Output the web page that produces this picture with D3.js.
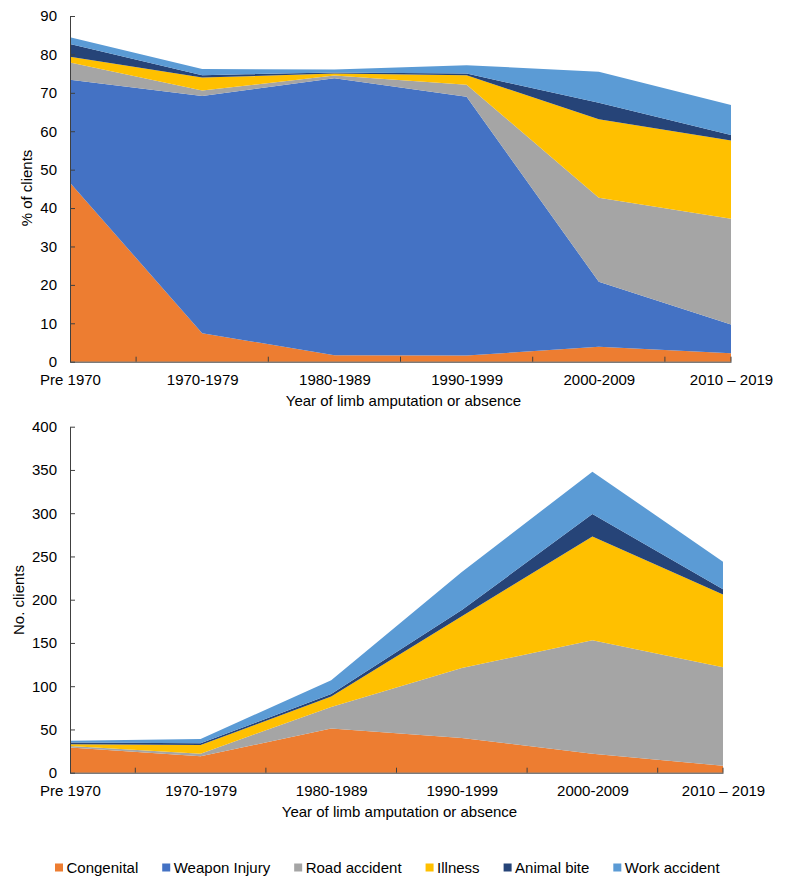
<!DOCTYPE html>
<html>
<head>
<meta charset="utf-8">
<script src="https://cdn.jsdelivr.net/npm/d3@7"></script>
<style>
  html, body { margin: 0; padding: 0; background: #fff; }
  svg { display: block; }
  text { font-family: Arial, "Liberation Sans", sans-serif; fill: #000; }
</style>
</head>
<body>
<svg id="chart" width="787" height="886"></svg>
<script>
// ---------- DATA ----------
const categories = ["Pre 1970", "1970-1979", "1980-1989", "1990-1999", "2000-2009", "2010 \u2013 2019"];
const seriesNames = ["Congenital", "Weapon Injury", "Road accident", "Illness", "Animal bite", "Work accident"];
const seriesColors = ["#ED7D31", "#4472C4", "#A5A5A5", "#FFC000", "#264478", "#5B9BD5"];

// Top panel: % of clients
const congenitalPct = [46.6, 7.4, 1.7, 1.6, 3.9, 2.2];
const weaponPct     = [26.8, 61.8, 72.1, 67.4, 16.9, 7.5];
const roadPct       = [4.5, 1.4, 0.7, 3.1, 21.9, 27.5];
const illnessPct    = [1.5, 3.4, 0.5, 2.5, 20.4, 20.4];
const animalPct     = [3.3, 0.6, 0.3, 0.4, 4.3, 1.4];
const workPct       = [1.8, 1.6, 0.8, 2.2, 8.1, 7.8];

// Bottom panel: number of clients
const congenitalN = [29, 19, 51, 40, 22, 8];
const weaponN     = [0, 0, 0, 0, 0, 0];
const roadN       = [2, 3, 25, 81, 131, 114];
const illnessN    = [2, 10, 12, 60, 120, 84];
const animalN     = [2, 2, 3, 7, 26, 6];
const workN       = [2, 5, 16, 44, 49, 32];

const pctTicks = [0, 10, 20, 30, 40, 50, 60, 70, 80, 90];
const countTicks = [0, 50, 100, 150, 200, 250, 300, 350, 400];
const xTitle = "Year of limb amputation or absence";

// ---------- DRAW ----------
const svg = d3.select("#chart");
const axisColor = "#404040";

function buildRows(arrs) {
  return categories.map((c, i) => {
    const r = { cat: c };
    seriesNames.forEach((s, k) => { r[s] = arrs[k][i]; });
    return r;
  });
}

function panel(opts) {
  const rows = buildRows(opts.arrays);
  const x = d3.scalePoint().domain(categories).range([opts.left, opts.right]).padding(0);
  const y = d3.scaleLinear().domain([0, opts.max]).range([opts.bottom, opts.top]);
  const stacked = d3.stack().keys(seriesNames)(rows);
  const area = d3.area()
    .x(d => x(d.data.cat))
    .y0(d => y(d[0]))
    .y1(d => y(d[1]));
  const g = svg.append("g");
  g.selectAll("path.layer").data(stacked).join("path")
    .attr("class", "layer")
    .attr("d", area)
    .attr("fill", (d, i) => seriesColors[i]);

  // y axis
  const yAxis = d3.axisLeft(y).tickValues(opts.ticks).tickSizeInner(-5).tickSizeOuter(0).tickPadding(13);
  const ya = g.append("g").attr("transform", `translate(${opts.left},0)`).call(yAxis);
  ya.selectAll("text").style("font-size", "15px").attr("fill", "#000");
  ya.selectAll("line, path").attr("stroke", axisColor);

  // x axis (labels at data points)
  const xAxis = d3.axisBottom(x).tickSize(0).tickPadding(13);
  const xa = g.append("g").attr("transform", `translate(0,${opts.bottom})`).call(xAxis);
  xa.selectAll("text").style("font-size", "15px").attr("fill", "#000");
  xa.select("path.domain").attr("stroke", axisColor);

  // tick marks between categories and at the end
  const cats = categories.map(c => x(c));
  const tickXs = [];
  for (let i = 0; i < cats.length - 1; i++) tickXs.push((cats[i] + cats[i + 1]) / 2);
  tickXs.push(cats[cats.length - 1]);
  xa.selectAll("line.mid").data(tickXs).join("line")
    .attr("class", "mid")
    .attr("x1", d => d).attr("x2", d => d)
    .attr("y1", 0).attr("y2", -5)
    .attr("stroke", axisColor);

  // axis titles
  g.append("text")
    .attr("x", (opts.left + opts.right) / 2 + 3)
    .attr("y", opts.bottom + 44)
    .attr("text-anchor", "middle")
    .style("font-size", "15px")
    .text(xTitle);
  g.append("text")
    .attr("transform", `translate(${opts.yTitleX},${opts.yTitleY}) rotate(-90)`)
    .attr("text-anchor", "middle")
    .attr("dy", "0.35em")
    .style("font-size", "15px")
    .text(opts.yTitle);
}

panel({
  arrays: [congenitalPct, weaponPct, roadPct, illnessPct, animalPct, workPct],
  left: 70, right: 731, top: 16, bottom: 361.7, max: 90, ticks: pctTicks,
  yTitle: "% of clients", yTitleX: 27, yTitleY: 188
});

panel({
  arrays: [congenitalN, weaponN, roadN, illnessN, animalN, workN],
  left: 70, right: 723, top: 426.7, bottom: 772.7, max: 400, ticks: countTicks,
  yTitle: "No. clients", yTitleX: 19, yTitleY: 600
});

// legend
const leg = svg.append("g");
let lx = 55;
const ly = 867.5;
seriesNames.forEach((s, i) => {
  leg.append("rect")
    .attr("x", lx).attr("y", ly - 4).attr("width", 8).attr("height", 8)
    .attr("fill", seriesColors[i]);
  const t = leg.append("text")
    .attr("x", lx + 11.5).attr("y", ly).attr("dy", "0.35em")
    .style("font-size", "15px")
    .text(s);
  const w = t.node().getComputedTextLength();
  lx = lx + 11.5 + w + 24;
});
</script>
</body>
</html>
